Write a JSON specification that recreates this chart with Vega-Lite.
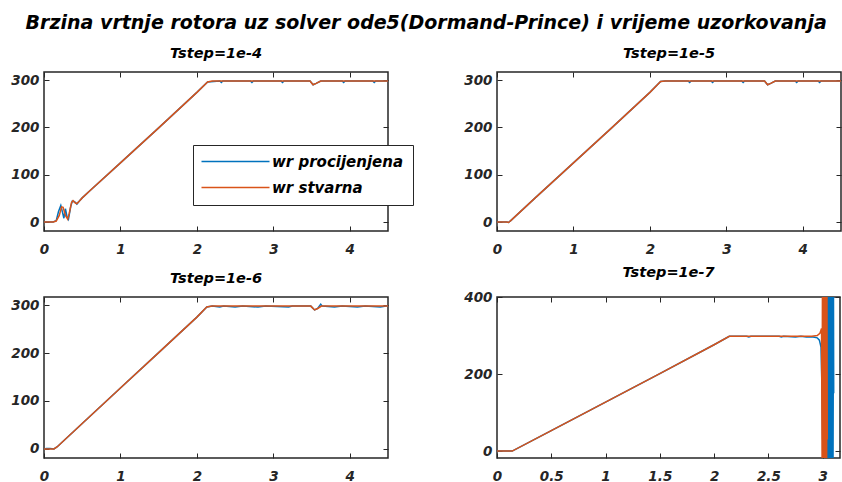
{
  "$schema": "https://vega.github.io/schema/vega-lite/v6.json",
  "background": "white",
  "padding": {"left": 10, "top": 14, "right": 0, "bottom": 0},
  "title": {"text": "Brzina vrtnje rotora uz solver ode5(Dormand-Prince) i vrijeme uzorkovanja", "font": "DejaVu Sans", "fontSize": 19, "fontWeight": "bold", "fontStyle": "italic", "color": "black", "anchor": "middle", "offset": 12},
  "columns": 2,
  "spacing": {"row": 66, "column": 109},
  "bounds": "flush",
  "datasets": {
    "p1": [
      {"s":"wr procijenjena","t":0,"v":0},{"s":"wr procijenjena","t":0.12,"v":0},{"s":"wr procijenjena","t":0.16,"v":3},{"s":"wr procijenjena","t":0.19,"v":22},{"s":"wr procijenjena","t":0.22,"v":35},{"s":"wr procijenjena","t":0.24,"v":22},{"s":"wr procijenjena","t":0.26,"v":8},{"s":"wr procijenjena","t":0.28,"v":28},{"s":"wr procijenjena","t":0.3,"v":12},{"s":"wr procijenjena","t":0.32,"v":6},{"s":"wr procijenjena","t":0.35,"v":33},{"s":"wr procijenjena","t":0.37,"v":44},{"s":"wr procijenjena","t":0.4,"v":43},{"s":"wr procijenjena","t":0.43,"v":38},{"s":"wr procijenjena","t":0.46,"v":44},{"s":"wr procijenjena","t":0.5,"v":51},{"s":"wr procijenjena","t":0.6,"v":66},{"s":"wr procijenjena","t":1.0,"v":125},{"s":"wr procijenjena","t":1.5,"v":199},{"s":"wr procijenjena","t":2.0,"v":274},{"s":"wr procijenjena","t":2.14,"v":296},{"s":"wr procijenjena","t":2.3,"v":298},{"s":"wr procijenjena","t":2.32,"v":295},{"s":"wr procijenjena","t":2.34,"v":298},{"s":"wr procijenjena","t":2.7,"v":298},{"s":"wr procijenjena","t":2.72,"v":295},{"s":"wr procijenjena","t":2.74,"v":298},{"s":"wr procijenjena","t":3.1,"v":298},{"s":"wr procijenjena","t":3.12,"v":295},{"s":"wr procijenjena","t":3.14,"v":298},{"s":"wr procijenjena","t":3.48,"v":298},{"s":"wr procijenjena","t":3.52,"v":290},{"s":"wr procijenjena","t":3.56,"v":293},{"s":"wr procijenjena","t":3.62,"v":298},{"s":"wr procijenjena","t":3.9,"v":298},{"s":"wr procijenjena","t":3.92,"v":295},{"s":"wr procijenjena","t":3.94,"v":298},{"s":"wr procijenjena","t":4.3,"v":298},{"s":"wr procijenjena","t":4.32,"v":295},{"s":"wr procijenjena","t":4.34,"v":298},{"s":"wr procijenjena","t":4.5,"v":298},
      {"s":"wr stvarna","t":0,"v":0},{"s":"wr stvarna","t":0.12,"v":0},{"s":"wr stvarna","t":0.16,"v":2},{"s":"wr stvarna","t":0.2,"v":14},{"s":"wr stvarna","t":0.23,"v":32},{"s":"wr stvarna","t":0.25,"v":31},{"s":"wr stvarna","t":0.28,"v":14},{"s":"wr stvarna","t":0.31,"v":6},{"s":"wr stvarna","t":0.33,"v":18},{"s":"wr stvarna","t":0.36,"v":41},{"s":"wr stvarna","t":0.38,"v":45},{"s":"wr stvarna","t":0.41,"v":40},{"s":"wr stvarna","t":0.43,"v":39},{"s":"wr stvarna","t":0.46,"v":44},{"s":"wr stvarna","t":0.5,"v":51},{"s":"wr stvarna","t":0.6,"v":66},{"s":"wr stvarna","t":1.0,"v":125},{"s":"wr stvarna","t":1.5,"v":199},{"s":"wr stvarna","t":2.0,"v":274},{"s":"wr stvarna","t":2.14,"v":296},{"s":"wr stvarna","t":2.2,"v":298},{"s":"wr stvarna","t":3.48,"v":298},{"s":"wr stvarna","t":3.52,"v":290},{"s":"wr stvarna","t":3.56,"v":293},{"s":"wr stvarna","t":3.62,"v":298},{"s":"wr stvarna","t":4.5,"v":298}
    ],
    "p2": [
      {"s":"wr procijenjena","t":0,"v":0},{"s":"wr procijenjena","t":0.13,"v":0},{"s":"wr procijenjena","t":0.15,"v":-1},{"s":"wr procijenjena","t":0.18,"v":3},{"s":"wr procijenjena","t":0.5,"v":51},{"s":"wr procijenjena","t":1.0,"v":125},{"s":"wr procijenjena","t":1.5,"v":199},{"s":"wr procijenjena","t":2.0,"v":274},{"s":"wr procijenjena","t":2.14,"v":297},{"s":"wr procijenjena","t":2.2,"v":298},{"s":"wr procijenjena","t":2.5,"v":298},{"s":"wr procijenjena","t":2.52,"v":295},{"s":"wr procijenjena","t":2.54,"v":298},{"s":"wr procijenjena","t":2.8,"v":298},{"s":"wr procijenjena","t":2.82,"v":295},{"s":"wr procijenjena","t":2.84,"v":298},{"s":"wr procijenjena","t":3.2,"v":298},{"s":"wr procijenjena","t":3.22,"v":295},{"s":"wr procijenjena","t":3.24,"v":298},{"s":"wr procijenjena","t":3.5,"v":298},{"s":"wr procijenjena","t":3.54,"v":290},{"s":"wr procijenjena","t":3.58,"v":293},{"s":"wr procijenjena","t":3.64,"v":298},{"s":"wr procijenjena","t":3.9,"v":298},{"s":"wr procijenjena","t":3.92,"v":295},{"s":"wr procijenjena","t":3.94,"v":298},{"s":"wr procijenjena","t":4.2,"v":298},{"s":"wr procijenjena","t":4.22,"v":295},{"s":"wr procijenjena","t":4.24,"v":298},{"s":"wr procijenjena","t":4.5,"v":298},
      {"s":"wr stvarna","t":0,"v":0},{"s":"wr stvarna","t":0.13,"v":0},{"s":"wr stvarna","t":0.15,"v":-1},{"s":"wr stvarna","t":0.18,"v":3},{"s":"wr stvarna","t":0.5,"v":51},{"s":"wr stvarna","t":1.0,"v":125},{"s":"wr stvarna","t":1.5,"v":199},{"s":"wr stvarna","t":2.0,"v":274},{"s":"wr stvarna","t":2.14,"v":297},{"s":"wr stvarna","t":2.2,"v":298},{"s":"wr stvarna","t":3.5,"v":298},{"s":"wr stvarna","t":3.54,"v":290},{"s":"wr stvarna","t":3.58,"v":293},{"s":"wr stvarna","t":3.64,"v":298},{"s":"wr stvarna","t":4.5,"v":298}
    ],
    "p3": [
      {"s":"wr procijenjena","t":0,"v":0},{"s":"wr procijenjena","t":0.03,"v":1},{"s":"wr procijenjena","t":0.08,"v":1},{"s":"wr procijenjena","t":0.13,"v":0},{"s":"wr procijenjena","t":0.17,"v":4},{"s":"wr procijenjena","t":0.5,"v":53},{"s":"wr procijenjena","t":1.0,"v":127},{"s":"wr procijenjena","t":1.5,"v":201},{"s":"wr procijenjena","t":2.0,"v":275},{"s":"wr procijenjena","t":2.13,"v":296},{"s":"wr procijenjena","t":2.2,"v":298},{"s":"wr procijenjena","t":2.3,"v":296},{"s":"wr procijenjena","t":2.35,"v":298},{"s":"wr procijenjena","t":2.5,"v":296},{"s":"wr procijenjena","t":2.6,"v":298},{"s":"wr procijenjena","t":2.8,"v":296},{"s":"wr procijenjena","t":2.9,"v":298},{"s":"wr procijenjena","t":3.2,"v":296},{"s":"wr procijenjena","t":3.25,"v":298},{"s":"wr procijenjena","t":3.49,"v":298},{"s":"wr procijenjena","t":3.54,"v":290},{"s":"wr procijenjena","t":3.58,"v":293},{"s":"wr procijenjena","t":3.62,"v":302},{"s":"wr procijenjena","t":3.64,"v":298},{"s":"wr procijenjena","t":3.8,"v":296},{"s":"wr procijenjena","t":3.9,"v":298},{"s":"wr procijenjena","t":4.1,"v":296},{"s":"wr procijenjena","t":4.2,"v":298},{"s":"wr procijenjena","t":4.4,"v":296},{"s":"wr procijenjena","t":4.5,"v":299},
      {"s":"wr stvarna","t":0,"v":0},{"s":"wr stvarna","t":0.13,"v":0},{"s":"wr stvarna","t":0.17,"v":4},{"s":"wr stvarna","t":0.5,"v":53},{"s":"wr stvarna","t":1.0,"v":127},{"s":"wr stvarna","t":1.5,"v":201},{"s":"wr stvarna","t":2.0,"v":275},{"s":"wr stvarna","t":2.13,"v":296},{"s":"wr stvarna","t":2.2,"v":298},{"s":"wr stvarna","t":3.49,"v":298},{"s":"wr stvarna","t":3.54,"v":290},{"s":"wr stvarna","t":3.58,"v":293},{"s":"wr stvarna","t":3.63,"v":298},{"s":"wr stvarna","t":4.5,"v":298}
    ],
    "p4": [
      {"s":"wr procijenjena","t":0,"v":0},{"s":"wr procijenjena","t":0.14,"v":0},{"s":"wr procijenjena","t":0.5,"v":53},{"s":"wr procijenjena","t":1.0,"v":127},{"s":"wr procijenjena","t":1.5,"v":201},{"s":"wr procijenjena","t":2.0,"v":276},{"s":"wr procijenjena","t":2.14,"v":298},{"s":"wr procijenjena","t":2.3,"v":298},{"s":"wr procijenjena","t":2.32,"v":296},{"s":"wr procijenjena","t":2.34,"v":298},{"s":"wr procijenjena","t":2.6,"v":298},{"s":"wr procijenjena","t":2.62,"v":296},{"s":"wr procijenjena","t":2.64,"v":298},{"s":"wr procijenjena","t":2.75,"v":296},{"s":"wr procijenjena","t":2.8,"v":298},{"s":"wr procijenjena","t":2.85,"v":296},{"s":"wr procijenjena","t":2.9,"v":297},{"s":"wr procijenjena","t":2.95,"v":294},{"s":"wr procijenjena","t":2.97,"v":288},{"s":"wr procijenjena","t":2.985,"v":270},{"s":"wr procijenjena","t":2.995,"v":150},{"s":"wr procijenjena","t":3.0,"v":30},{"s":"wr procijenjena","t":3.004,"v":400},{"s":"wr procijenjena","t":3.008,"v":-18},{"s":"wr procijenjena","t":3.012,"v":400},{"s":"wr procijenjena","t":3.016,"v":-18},{"s":"wr procijenjena","t":3.02,"v":400},{"s":"wr procijenjena","t":3.024,"v":-18},{"s":"wr procijenjena","t":3.028,"v":400},{"s":"wr procijenjena","t":3.032,"v":-18},{"s":"wr procijenjena","t":3.036,"v":400},{"s":"wr procijenjena","t":3.04,"v":-18},{"s":"wr procijenjena","t":3.044,"v":400},{"s":"wr procijenjena","t":3.048,"v":-18},{"s":"wr procijenjena","t":3.052,"v":400},{"s":"wr procijenjena","t":3.056,"v":-18},{"s":"wr procijenjena","t":3.06,"v":400},{"s":"wr procijenjena","t":3.064,"v":-18},{"s":"wr procijenjena","t":3.068,"v":400},{"s":"wr procijenjena","t":3.072,"v":-18},{"s":"wr procijenjena","t":3.076,"v":400},{"s":"wr procijenjena","t":3.08,"v":-18},{"s":"wr procijenjena","t":3.084,"v":400},{"s":"wr procijenjena","t":3.088,"v":-18},{"s":"wr procijenjena","t":3.092,"v":400},{"s":"wr procijenjena","t":3.096,"v":-18},{"s":"wr procijenjena","t":3.1,"v":400},{"s":"wr procijenjena","t":3.102,"v":150},
      {"s":"wr stvarna","t":0,"v":0},{"s":"wr stvarna","t":0.14,"v":0},{"s":"wr stvarna","t":0.5,"v":53},{"s":"wr stvarna","t":1.0,"v":127},{"s":"wr stvarna","t":1.5,"v":201},{"s":"wr stvarna","t":2.0,"v":276},{"s":"wr stvarna","t":2.14,"v":298},{"s":"wr stvarna","t":2.9,"v":298},{"s":"wr stvarna","t":2.95,"v":300},{"s":"wr stvarna","t":2.975,"v":306},{"s":"wr stvarna","t":2.99,"v":318},{"s":"wr stvarna","t":2.995,"v":-18},{"s":"wr stvarna","t":2.998,"v":400},{"s":"wr stvarna","t":3.001,"v":-18},{"s":"wr stvarna","t":3.004,"v":400},{"s":"wr stvarna","t":3.007,"v":-18},{"s":"wr stvarna","t":3.01,"v":400},{"s":"wr stvarna","t":3.013,"v":-18},{"s":"wr stvarna","t":3.016,"v":400},{"s":"wr stvarna","t":3.019,"v":-18},{"s":"wr stvarna","t":3.022,"v":400},{"s":"wr stvarna","t":3.025,"v":-18},{"s":"wr stvarna","t":3.028,"v":400},{"s":"wr stvarna","t":3.031,"v":-18},{"s":"wr stvarna","t":3.034,"v":400},{"s":"wr stvarna","t":3.037,"v":-18},{"s":"wr stvarna","t":3.04,"v":400},{"s":"wr stvarna","t":3.043,"v":30}
    ]
  },
  "concat": [
    {
      "width": 344, "height": 159,
      "title": {"text": "Tstep=1e-4"},
      "data": {"name": "p1"},
      "layer": [
        {"mark": {"type": "line", "clip": true, "strokeWidth": 1.5},
         "encoding": {
           "x": {"field": "t", "type": "quantitative", "title": null, "scale": {"domain": [0, 4.5], "nice": false, "zero": false}, "axis": {"values": [0, 1, 2, 3, 4], "orient": "bottom"}},
           "y": {"field": "v", "type": "quantitative", "title": null, "scale": {"domain": [-19, 317], "nice": false, "zero": false}, "axis": {"values": [0, 100, 200, 300], "orient": "left"}},
           "color": {"field": "s", "type": "nominal", "scale": {"domain": ["wr procijenjena", "wr stvarna"], "range": ["#0072BD", "#D95319"]},
             "legend": {"title": null, "orient": "none", "legendX": 149, "legendY": 73, "symbolType": "M-2,0H15", "symbolSize": 64, "symbolStrokeWidth": 1.5, "labelOffset": 55, "labelFont": "DejaVu Sans", "labelFontSize": 15, "labelFontWeight": "bold", "labelFontStyle": "italic", "labelColor": "black", "strokeColor": "#262626", "fillColor": "white", "padding": 9, "rowPadding": 10}}
         }},
        {"mark": {"type": "line", "opacity": 0},
         "encoding": {
           "x": {"field": "t", "type": "quantitative", "title": null, "scale": {"domain": [0, 4.5], "nice": false, "zero": false}, "axis": {"values": [0, 1, 2, 3, 4], "orient": "top", "labels": false}},
           "y": {"field": "v", "type": "quantitative", "title": null, "scale": {"domain": [-19, 317], "nice": false, "zero": false}, "axis": {"values": [0, 100, 200, 300], "orient": "right", "labels": false}}
         }}
      ],
      "resolve": {"axis": {"x": "independent", "y": "independent"}}
    },
    {
      "width": 344, "height": 159,
      "title": {"text": "Tstep=1e-5"},
      "data": {"name": "p2"},
      "layer": [
        {"mark": {"type": "line", "clip": true, "strokeWidth": 1.5},
         "encoding": {
           "x": {"field": "t", "type": "quantitative", "title": null, "scale": {"domain": [0, 4.5], "nice": false, "zero": false}, "axis": {"values": [0, 1, 2, 3, 4], "orient": "bottom"}},
           "y": {"field": "v", "type": "quantitative", "title": null, "scale": {"domain": [-19, 317], "nice": false, "zero": false}, "axis": {"values": [0, 100, 200, 300], "orient": "left"}},
           "color": {"field": "s", "type": "nominal", "scale": {"domain": ["wr procijenjena", "wr stvarna"], "range": ["#0072BD", "#D95319"]}, "legend": null}
         }},
        {"mark": {"type": "line", "opacity": 0},
         "encoding": {
           "x": {"field": "t", "type": "quantitative", "title": null, "scale": {"domain": [0, 4.5], "nice": false, "zero": false}, "axis": {"values": [0, 1, 2, 3, 4], "orient": "top", "labels": false}},
           "y": {"field": "v", "type": "quantitative", "title": null, "scale": {"domain": [-19, 317], "nice": false, "zero": false}, "axis": {"values": [0, 100, 200, 300], "orient": "right", "labels": false}}
         }}
      ],
      "resolve": {"axis": {"x": "independent", "y": "independent"}}
    },
    {
      "width": 344, "height": 161,
      "title": {"text": "Tstep=1e-6"},
      "data": {"name": "p3"},
      "layer": [
        {"mark": {"type": "line", "clip": true, "strokeWidth": 1.5},
         "encoding": {
           "x": {"field": "t", "type": "quantitative", "title": null, "scale": {"domain": [0, 4.5], "nice": false, "zero": false}, "axis": {"values": [0, 1, 2, 3, 4], "orient": "bottom"}},
           "y": {"field": "v", "type": "quantitative", "title": null, "scale": {"domain": [-19, 317], "nice": false, "zero": false}, "axis": {"values": [0, 100, 200, 300], "orient": "left"}},
           "color": {"field": "s", "type": "nominal", "scale": {"domain": ["wr procijenjena", "wr stvarna"], "range": ["#0072BD", "#D95319"]}, "legend": null}
         }},
        {"mark": {"type": "line", "opacity": 0},
         "encoding": {
           "x": {"field": "t", "type": "quantitative", "title": null, "scale": {"domain": [0, 4.5], "nice": false, "zero": false}, "axis": {"values": [0, 1, 2, 3, 4], "orient": "top", "labels": false}},
           "y": {"field": "v", "type": "quantitative", "title": null, "scale": {"domain": [-19, 317], "nice": false, "zero": false}, "axis": {"values": [0, 100, 200, 300], "orient": "right", "labels": false}}
         }}
      ],
      "resolve": {"axis": {"x": "independent", "y": "independent"}}
    },
    {
      "width": 343, "height": 161,
      "title": {"text": "Tstep=1e-7"},
      "data": {"name": "p4"},
      "layer": [
        {"mark": {"type": "line", "clip": true, "strokeWidth": 1.5},
         "encoding": {
           "x": {"field": "t", "type": "quantitative", "title": null, "scale": {"domain": [0, 3.16], "nice": false, "zero": false}, "axis": {"values": [0, 0.5, 1, 1.5, 2, 2.5, 3], "format": "~g", "orient": "bottom"}},
           "y": {"field": "v", "type": "quantitative", "title": null, "scale": {"domain": [-18, 400], "nice": false, "zero": false}, "axis": {"values": [0, 200, 400], "orient": "left"}},
           "color": {"field": "s", "type": "nominal", "scale": {"domain": ["wr procijenjena", "wr stvarna"], "range": ["#0072BD", "#D95319"]}, "legend": null}
         }},
        {"mark": {"type": "line", "opacity": 0},
         "encoding": {
           "x": {"field": "t", "type": "quantitative", "title": null, "scale": {"domain": [0, 3.16], "nice": false, "zero": false}, "axis": {"values": [0, 0.5, 1, 1.5, 2, 2.5, 3], "orient": "top", "labels": false}},
           "y": {"field": "v", "type": "quantitative", "title": null, "scale": {"domain": [-18, 400], "nice": false, "zero": false}, "axis": {"values": [0, 200, 400], "orient": "right", "labels": false}}
         }}
      ],
      "resolve": {"axis": {"x": "independent", "y": "independent"}}
    }
  ],
  "config": {
    "view": {"stroke": "#262626", "strokeWidth": 1.5},
    "axis": {"grid": false, "domain": false, "tickColor": "#262626", "tickSize": -5, "tickWidth": 1, "labelFont": "DejaVu Sans", "labelFontSize": 13.5, "labelFontWeight": "bold", "labelFontStyle": "italic", "labelColor": "#262626", "labelPadding": 10, "labelFlush": false, "labelOverlap": false},
    "axisX": {"labelPadding": 16},
    "title": {"font": "DejaVu Sans", "fontSize": 14.5, "fontWeight": "bold", "fontStyle": "italic", "color": "black", "offset": 10}
  }
}
